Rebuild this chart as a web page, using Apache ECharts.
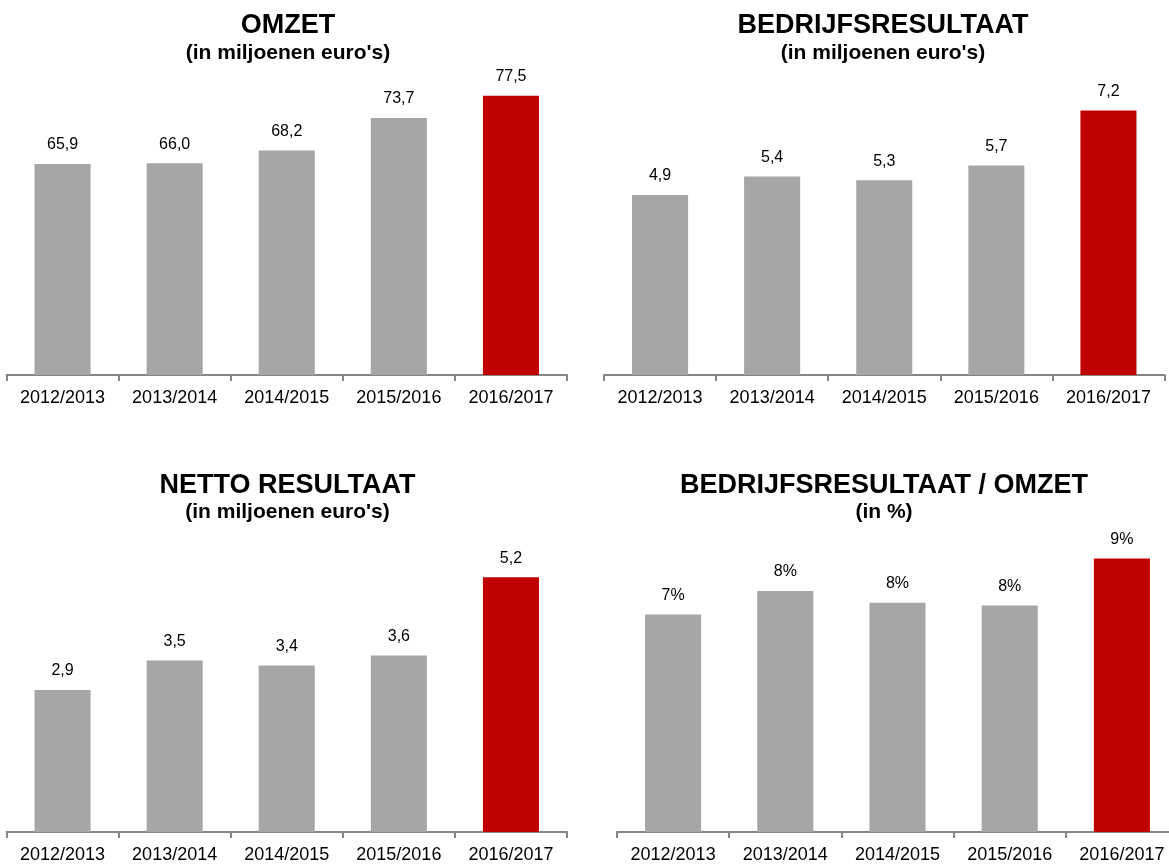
<!DOCTYPE html>
<html>
<head>
<meta charset="utf-8">
<script src="https://cdn.jsdelivr.net/npm/echarts@6/dist/echarts.min.js"></script>
<style>
html,body{margin:0;padding:0;background:#fff;}
#c{width:1169px;height:864px;}
</style>
</head>
<body>
<div id="c"></div>
<script>
const categories = ['2012/2013', '2013/2014', '2014/2015', '2015/2016', '2016/2017'];
const omzet = [65.9, 66.0, 68.2, 73.7, 77.5];
const bedrijfsresultaat = [4.9, 5.4, 5.3, 5.7, 7.2];
const nettoResultaat = [2.9, 3.5, 3.4, 3.6, 5.2];
const margePct = [7.4, 8.2, 7.8, 7.7, 9.3];

const titles = ['OMZET', 'BEDRIJFSRESULTAAT', 'NETTO RESULTAAT', 'BEDRIJFSRESULTAAT / OMZET'];
const subtitles = ["(in miljoenen euro's)", "(in miljoenen euro's)", "(in miljoenen euro's)", '(in %)'];

const FONT = '"Liberation Sans", Arial, sans-serif';
const GRAY = '#a6a6a6';
const RED = '#c00000';
const AXIS = '#868686';

const panels = [
  {data: omzet, min: 30, max: 80, fmt: v => v.toFixed(1).replace('.', ','), grid: {left: 6.5, top: 81, width: 560.5, height: 294}, tx: 288, ty: 26, sy: 53},
  {data: bedrijfsresultaat, min: 0, max: 8, fmt: v => v.toFixed(1).replace('.', ','), grid: {left: 604, top: 81, width: 560.5, height: 294}, tx: 883, ty: 26, sy: 53},
  {data: nettoResultaat, min: 0, max: 6, fmt: v => v.toFixed(1).replace('.', ','), grid: {left: 6.5, top: 538, width: 560.5, height: 294}, tx: 287.5, ty: 485.5, sy: 512.5},
  {data: margePct, min: 0, max: 10, fmt: v => Math.round(v) + '%', grid: {left: 617, top: 538, width: 561, height: 294}, tx: 884, ty: 486, sy: 512.5}
];

const option = {
  backgroundColor: '#fff',
  animation: false,
  title: [],
  grid: [],
  xAxis: [],
  yAxis: [],
  series: []
};

panels.forEach((p, i) => {
  option.title.push({
    text: titles[i], left: p.tx, top: p.ty - 13.5, textAlign: 'center', padding: 0,
    textStyle: {fontFamily: FONT, fontSize: 27, fontWeight: 'bold', color: '#000', lineHeight: 27}
  });
  option.title.push({
    text: subtitles[i], left: p.tx, top: p.sy - 10.5, textAlign: 'center', padding: 0,
    textStyle: {fontFamily: FONT, fontSize: 21, fontWeight: 'bold', color: '#000', lineHeight: 21}
  });
  option.grid.push(Object.assign({containLabel: false, outerBoundsMode: 'none'}, p.grid));
  option.xAxis.push({
    type: 'category', gridIndex: i, data: categories, boundaryGap: true,
    axisLine: {show: true, lineStyle: {color: AXIS, width: 2}},
    axisTick: {show: true, alignWithLabel: false, length: 6, lineStyle: {color: AXIS, width: 2}},
    axisLabel: {show: true, interval: 0, margin: 14, color: '#000', fontFamily: FONT, fontSize: 18},
    splitLine: {show: false}
  });
  option.yAxis.push({
    type: 'value', gridIndex: i, min: p.min, max: p.max, show: false,
    splitLine: {show: false}
  });
  option.series.push({
    type: 'bar', xAxisIndex: i, yAxisIndex: i, data: p.data, barWidth: '50%',
    itemStyle: {color: params => params.dataIndex === categories.length - 1 ? RED : GRAY},
    label: {show: true, position: 'top', distance: 11, color: '#000', fontFamily: FONT, fontSize: 16,
      formatter: params => p.fmt(params.value)}
  });
});

const chart = echarts.init(document.getElementById('c'));
chart.setOption(option);
</script>
</body>
</html>
